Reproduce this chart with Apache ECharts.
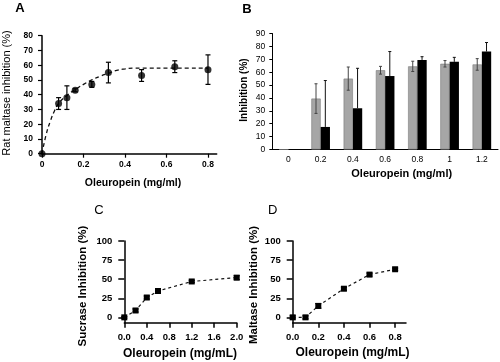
<!DOCTYPE html>
<html>
<head>
<meta charset="utf-8">
<script src="https://cdn.jsdelivr.net/npm/echarts@6/dist/echarts.min.js"></script>
<style>html,body{margin:0;padding:0;background:#fff}#c{width:500px;height:362px}</style>
</head>
<body>
<div id="c"></div>
<script>
// Panel A: rat maltase inhibition
var aX = [0, 0.08, 0.12, 0.16, 0.24, 0.32, 0.48, 0.64, 0.8];
var aY = [0, 34, 38, 43, 47, 55, 53, 59, 57];
var aErr = [0, 4, 8, 1, 2, 7, 4, 4, 10];
var aFitX = [0, 0.02, 0.04, 0.06, 0.08, 0.12, 0.16, 0.2, 0.24, 0.28, 0.32, 0.36, 0.4, 0.44, 0.48, 0.64, 0.8];
var aFitY = [0, 13, 22, 29, 34, 39.5, 43.5, 47, 50, 52.5, 54.5, 56.5, 57.5, 58, 58, 58, 58];
var aTicks = [0, 0.2, 0.4, 0.6, 0.8];

// Panel B: bars
var bCats = ['0', '0.2', '0.4', '0.6', '0.8', '1', '1.2'];
var bGray = [0, 39.5, 55, 61.5, 64.5, 66.5, 66];
var bGrayErr = [0, 11.5, 9, 3, 4, 2.5, 4.5];
var bBlack = [0, 17.5, 32, 57, 69.5, 68, 76];
var bBlackErr = [0, 36, 31, 19, 2.5, 3.5, 7];

// Panel C: sucrase inhibition
var cX = [0, 0.2, 0.4, 0.6, 1.2, 2.0];
var cY = [0, 9, 26, 34.5, 47, 52];
var cErr = [1, 2, 2, 3, 1.5, 2.5];
var cTicks = [0, 0.4, 0.8, 1.2, 1.6, 2.0];

// Panel D: maltase inhibition
var dX = [0, 0.1, 0.2, 0.4, 0.6, 0.8];
var dY = [0, 0, 15, 37.5, 56, 63];
var dErr = [2, 2, 3, 2, 2, 1.5];
var dTicks = [0, 0.2, 0.4, 0.6, 0.8];

var cdYTicks = [0, 25, 50, 75, 100];

var FONT = '"Liberation Sans", Arial, sans-serif';

function pairs(xs, ys) { return xs.map(function (x, i) { return [x, ys[i]]; }); }
function triples(xs, ys, es) { return xs.map(function (x, i) { return [x, ys[i], es[i]]; }); }

function errRender(offset, cap, color, lw, upOnly) {
  return function (params, api) {
    var x = api.value(0), y = api.value(1), e = api.value(2);
    if (!e) return null;
    var t = api.coord([x, y + e]);
    var b = api.coord([x, upOnly ? y : y - e]);
    var cx = t[0] + offset;
    var st = { stroke: color, lineWidth: lw };
    var kids = [
      { type: 'line', shape: { x1: cx, y1: t[1], x2: cx, y2: b[1] }, style: st },
      { type: 'line', shape: { x1: cx - cap, y1: t[1], x2: cx + cap, y2: t[1] }, style: st }
    ];
    if (!upOnly) kids.push({ type: 'line', shape: { x1: cx - cap, y1: b[1], x2: cx + cap, y2: b[1] }, style: st });
    return { type: 'group', children: kids };
  };
}

function txt(x, y, s, size, weight, rot) {
  return {
    type: 'text', x: x, y: y, rotation: rot ? Math.PI / 2 : 0,
    style: { text: s, font: (weight || 'normal') + ' ' + size + 'px ' + FONT, fill: '#000', textAlign: 'center', textVerticalAlign: 'middle' }
  };
}

var blackLine = function (w) { return { show: true, onZero: false, lineStyle: { color: '#000', width: w } }; };

var chart = echarts.init(document.getElementById('c'));
chart.setOption({
  animation: false,
  backgroundColor: '#fff',
  textStyle: { fontFamily: FONT },
  grid: [
    { left: 42, top: 35.7, width: 174.7, height: 118, outerBoundsMode: 'none' },
    { left: 272.3, top: 33.5, width: 225.7, height: 116, outerBoundsMode: 'none' },
    { left: 124.3, top: 241, width: 112.4, height: 81.7, outerBoundsMode: 'none' },
    { left: 292.7, top: 241, width: 113.3, height: 81.7, outerBoundsMode: 'none' }
  ],
  xAxis: [
    {
      type: 'value', gridIndex: 0, min: 0, max: 0.842,
      axisLine: blackLine(1.5),
      axisTick: { show: true, length: 4, customValues: aTicks, lineStyle: { color: '#000', width: 1.2 } },
      axisLabel: { customValues: aTicks, margin: 6, fontSize: 8.5, fontWeight: 'bold', color: '#000',
        formatter: function (v) { return v === 0 ? '0' : v.toFixed(1); } },
      splitLine: { show: false }
    },
    {
      type: 'category', gridIndex: 1, data: bCats,
      axisLine: blackLine(1),
      axisTick: { show: false },
      axisLabel: { margin: 6, fontSize: 8.5, color: '#000' },
      splitLine: { show: false }
    },
    {
      type: 'value', gridIndex: 2, min: 0, max: 2,
      axisLine: blackLine(1.5),
      axisTick: { show: true, length: 5, customValues: cTicks, lineStyle: { color: '#000', width: 1.5 } },
      axisLabel: { customValues: cTicks, margin: 10, fontSize: 9.5, fontWeight: 'bold', color: '#000',
        formatter: function (v) { return v.toFixed(1); } },
      splitLine: { show: false }
    },
    {
      type: 'value', gridIndex: 3, min: 0, max: 0.885,
      axisLine: blackLine(1.5),
      axisTick: { show: true, length: 5, customValues: dTicks, lineStyle: { color: '#000', width: 1.5 } },
      axisLabel: { customValues: dTicks, margin: 10, fontSize: 9.5, fontWeight: 'bold', color: '#000',
        formatter: function (v) { return v.toFixed(1); } },
      splitLine: { show: false }
    }
  ],
  yAxis: [
    {
      type: 'value', gridIndex: 0, min: 0, max: 80, interval: 10,
      axisLine: blackLine(1.5),
      axisTick: { show: true, length: 4, lineStyle: { color: '#000', width: 1.2 } },
      axisLabel: { margin: 9, fontSize: 8.5, fontWeight: 'bold', color: '#000' },
      splitLine: { show: false }
    },
    {
      type: 'value', gridIndex: 1, min: 0, max: 90, interval: 10,
      axisLine: blackLine(1),
      axisTick: { show: true, length: 3, lineStyle: { color: '#000' } },
      axisLabel: { margin: 7, fontSize: 8.5, color: '#000' },
      splitLine: { show: false }
    },
    {
      type: 'value', gridIndex: 2, min: -7, max: 100,
      axisLine: blackLine(1.5),
      axisTick: { show: true, length: 6, customValues: cdYTicks, lineStyle: { color: '#000', width: 1.5 } },
      axisLabel: { customValues: cdYTicks, margin: 12, fontSize: 9.5, fontWeight: 'bold', color: '#000' },
      splitLine: { show: false }
    },
    {
      type: 'value', gridIndex: 3, min: -7, max: 100,
      axisLine: blackLine(1.5),
      axisTick: { show: true, length: 6, customValues: cdYTicks, lineStyle: { color: '#000', width: 1.5 } },
      axisLabel: { customValues: cdYTicks, margin: 12, fontSize: 9.5, fontWeight: 'bold', color: '#000' },
      splitLine: { show: false }
    }
  ],
  series: [
    // A
    { type: 'line', xAxisIndex: 0, yAxisIndex: 0, data: pairs(aFitX, aFitY), smooth: true, showSymbol: false,
      lineStyle: { color: '#111', width: 1.3, type: [4, 3] }, z: 2 },
    { type: 'custom', xAxisIndex: 0, yAxisIndex: 0, data: triples(aX, aY, aErr),
      renderItem: errRender(0, 2.5, '#000', 1.2, false), z: 3 },
    { type: 'scatter', xAxisIndex: 0, yAxisIndex: 0, data: pairs(aX, aY), symbol: 'circle', symbolSize: 7,
      itemStyle: { color: '#000' }, z: 4 },
    // B
    { type: 'bar', xAxisIndex: 1, yAxisIndex: 1, data: bGray, barWidth: 9.3, barGap: '0%',
      itemStyle: { color: '#a6a6a6', borderColor: '#7a7a7a', borderWidth: 0.6 } },
    { type: 'bar', xAxisIndex: 1, yAxisIndex: 1, data: bBlack, barWidth: 9.3, barGap: '0%',
      itemStyle: { color: '#000' } },
    { type: 'custom', xAxisIndex: 1, yAxisIndex: 1, data: bGray.map(function (v, i) { return [i, v, bGrayErr[i]]; }),
      renderItem: errRender(-4.65, 1.5, '#444', 1, false), z: 5 },
    { type: 'custom', xAxisIndex: 1, yAxisIndex: 1, data: bBlack.map(function (v, i) { return [i, v, bBlackErr[i]]; }),
      renderItem: errRender(4.65, 1.5, '#111', 1, true), z: 5 },
    // C
    { type: 'custom', xAxisIndex: 2, yAxisIndex: 2, data: triples(cX, cY, cErr),
      renderItem: errRender(0, 3, '#000', 1.2, false), z: 2 },
    { type: 'line', xAxisIndex: 2, yAxisIndex: 2, data: pairs(cX, cY), symbol: 'rect', symbolSize: 6,
      lineStyle: { color: '#111', width: 1.2, type: [3, 3] }, itemStyle: { color: '#000' }, z: 3 },
    // D
    { type: 'custom', xAxisIndex: 3, yAxisIndex: 3, data: triples(dX, dY, dErr),
      renderItem: errRender(0, 3, '#000', 1.2, false), z: 2 },
    { type: 'line', xAxisIndex: 3, yAxisIndex: 3, data: pairs(dX, dY), symbol: 'rect', symbolSize: 6,
      lineStyle: { color: '#111', width: 1.2, type: [3, 3] }, itemStyle: { color: '#000' }, z: 3 }
  ],
  graphic: [
    txt(20, 8, 'A', 13, 'bold'),
    txt(247, 9, 'B', 13, 'bold'),
    txt(99, 210, 'C', 13, 'normal'),
    txt(272.7, 210, 'D', 13, 'normal'),
    txt(7, 93, 'Rat maltase inhibition (%)', 11, 'normal', true),
    txt(133, 183.5, 'Oleuropein (mg/ml)', 10.5, 'bold'),
    txt(244, 90, 'Inhibition (%)', 10, 'bold', true),
    txt(401.7, 174, 'Oleuropein (mg/ml)', 11, 'bold'),
    txt(83, 286, 'Sucrase Inhibition (%)', 11.5, 'bold', true),
    txt(180, 353.5, 'Oleuropein (mg/mL)', 12, 'bold'),
    txt(254, 285, 'Maltase Inhibition (%)', 11.5, 'bold', true),
    txt(352.5, 352.5, 'Oleuropein (mg/mL)', 12, 'bold')
  ]
});
</script>
</body>
</html>
